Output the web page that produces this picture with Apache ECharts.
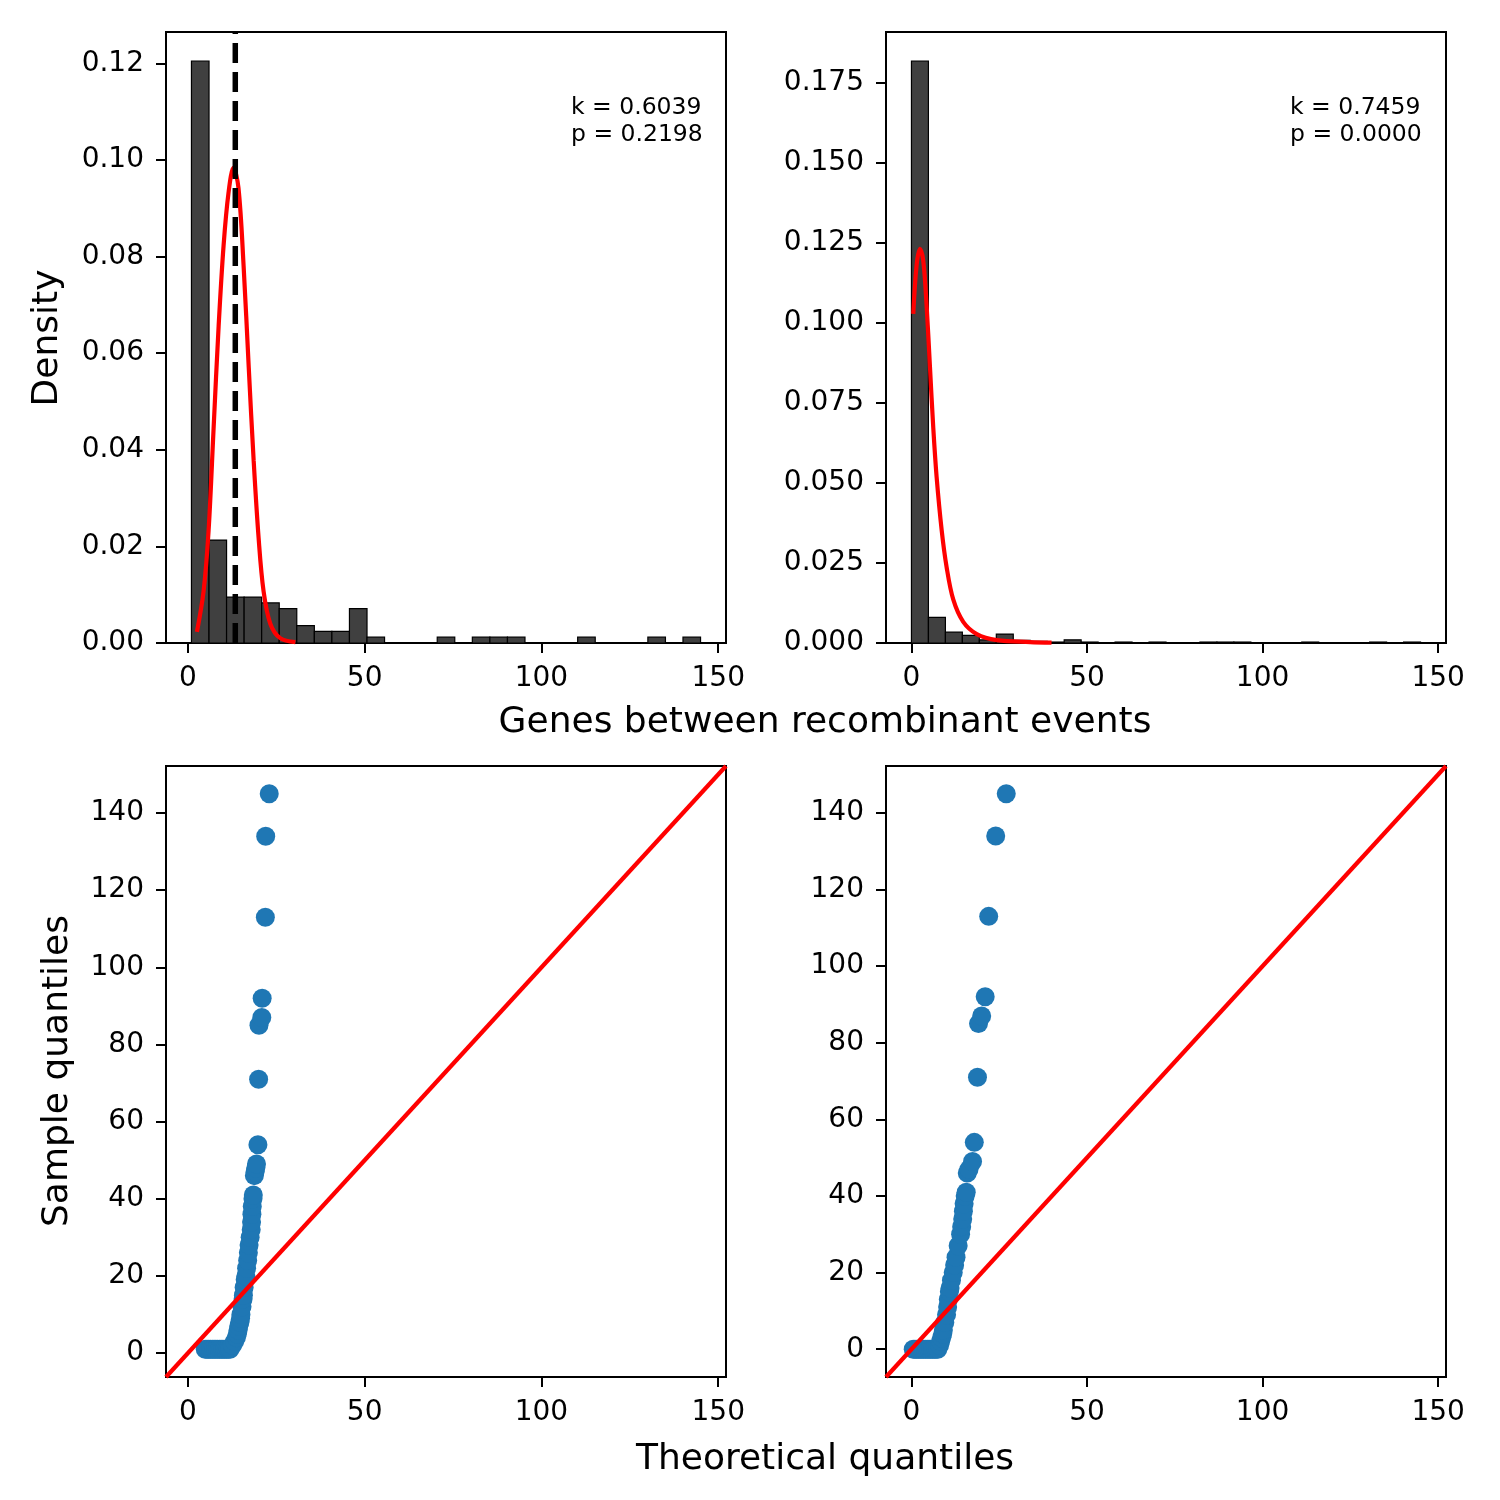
<!DOCTYPE html>
<html><head><meta charset="utf-8">
<script src="https://cdn.jsdelivr.net/npm/echarts@6/dist/echarts.min.js"></script>
<style>html,body{margin:0;padding:0;background:#fff}#c{width:1500px;height:1500px}</style>
</head><body><div id="c"></div><script>
// ---------- data ----------
const leftEdges = [1, 5.97, 10.93, 15.9, 20.86, 25.83, 30.79, 35.76, 40.72, 45.69, 50.66, 55.62, 60.59, 65.55, 70.52, 75.48, 80.45, 85.41, 90.38, 95.34, 100.31, 105.28, 110.24, 115.21, 120.17, 125.14, 130.1, 135.07, 140.03, 145];
const leftDensity = [0.1205, 0.0213, 0.0095, 0.0095, 0.0083, 0.0071, 0.0036, 0.0024, 0.0024, 0.0071, 0.0012, 0, 0, 0, 0.0012, 0, 0.0012, 0.0012, 0.0012, 0, 0, 0, 0.0012, 0, 0, 0, 0.0012, 0, 0.0012];
const rightEdges = [0, 4.83, 9.67, 14.5, 19.33, 24.17, 29, 33.83, 38.67, 43.5, 48.33, 53.17, 58, 62.83, 67.67, 72.5, 77.33, 82.17, 87, 91.83, 96.67, 101.5, 106.33, 111.17, 116, 120.83, 125.67, 130.5, 135.33, 140.17, 145];
const rightDensity = [0.1817, 0.0080, 0.0034, 0.0024, 0.0010, 0.0028, 0.0008, 0.0005, 0.0003, 0.0010, 0.0003, 0, 0.0003, 0, 0.0003, 0, 0, 0.0003, 0.0003, 0.0003, 0, 0, 0, 0.0003, 0, 0, 0, 0.0003, 0, 0.0003];

const leftFitX = [2.55, 4.43, 5.85, 7.26, 8.68, 10.09, 11.5, 12.9, 14.3, 15.75, 17.2, 18.6, 20.0, 21.4, 23.3, 26.1, 30.4];
const leftFitY = [0.0023, 0.0107, 0.0233, 0.0444, 0.0655, 0.0823, 0.0933, 0.0984, 0.0942, 0.0781, 0.0571, 0.0377, 0.0217, 0.0107, 0.0040, 0.0010, 0.0002];
const rightFitX = [0.52, 1.47, 2.42, 3.37, 4.32, 5.27, 6.22, 7.17, 8.6, 10.0, 11.9, 14.75, 18.6, 24.3, 33.8, 39.9];
const rightFitY = [0.1028, 0.1180, 0.1231, 0.1193, 0.1053, 0.0862, 0.0671, 0.0518, 0.0353, 0.0238, 0.0136, 0.0066, 0.0028, 0.0009, 0.0003, 0.0001];
const leftMeanLine = 13.4;

const qqLeftTheo = [4.9, 5.4, 5.9, 6.4, 6.9, 7.4, 7.9, 8.4, 8.9, 9.4, 9.9, 10.4, 10.9, 11.4, 11.9,
  12.6, 13.2, 13.7, 14.0, 14.2, 14.4, 14.7, 14.9, 15.0, 15.3, 15.6, 15.7, 15.9, 16.2, 16.4, 16.6, 16.9, 17.1, 17.3, 17.6, 17.9, 18.0, 18.1, 18.2, 18.4, 18.5, 18.8, 19.0, 19.2, 19.4, 19.8, 20.0, 20.1, 20.9, 21.0, 21.9, 22.0, 23.0];
const qqLeftSample = [1, 1, 1, 1, 1, 1, 1, 1, 1, 1, 1, 1, 1, 1, 1,
  2, 3, 4, 5, 6, 7, 8, 9, 10, 12, 14, 15, 17, 19, 20, 22, 24, 26, 28, 30, 32, 34, 36, 38, 40, 41, 46, 47, 48, 49, 54, 71, 85, 87, 92, 113, 134, 145];
const qqRightTheo = [0.5, 1.0, 1.5, 2.0, 2.5, 3.0, 3.5, 4.0, 4.5, 5.0, 5.5, 6.0, 6.5, 7.0, 7.5,
  8.0, 8.3, 8.6, 8.9, 9.1, 9.5, 10.0, 10.3, 10.5, 10.8, 11.0, 11.4, 11.9, 12.3, 12.7, 13.3, 14.0, 14.3, 14.6, 14.8, 15.0, 15.3, 15.6, 15.9, 16.4, 17.4, 17.9, 18.8, 19.1, 20.0, 21.0, 22.0, 24.0, 27.0];
const qqRightSample = [0, 0, 0, 0, 0, 0, 0, 0, 0, 0, 0, 0, 0, 0, 0,
  1, 2, 3, 4, 5, 7, 9, 11, 13, 15, 16, 18, 20, 22, 24, 27, 30, 32, 34, 36, 38, 40, 41, 46, 47, 49, 54, 71, 85, 87, 92, 113, 134, 145];

const xTicks = [0, 50, 100, 150];
const leftYTicks = [0, 0.02, 0.04, 0.06, 0.08, 0.10, 0.12];
const rightYTicks = [0, 0.025, 0.05, 0.075, 0.1, 0.125, 0.15, 0.175];
const qqYTicks = [0, 20, 40, 60, 80, 100, 120, 140];
const leftStats = ['k = 0.6039', 'p = 0.2198'];
const rightStats = ['k = 0.7459', 'p = 0.0000'];
const xLabelTop = 'Genes between recombinant events';
const xLabelBottom = 'Theoretical quantiles';
const yLabelTop = 'Density';
const yLabelBottom = 'Sample quantiles';

// ---------- chart ----------
const FONT = 'DejaVu Sans';
const leftRange = [-6.2, 152.2];
const rightRange = [-7.25, 152.25];
const topLeftYMax = 0.1265, topRightYMax = 0.1908;

function axisCommon(ticks, fmt, isX) {
  return {
    axisLine: {show: true, onZero: false, lineStyle: {color: '#000', width: 2}},
    axisTick: {show: true, length: 10, customValues: ticks, lineStyle: {color: '#000', width: 2}},
    axisLabel: {customValues: ticks, fontSize: 28, color: '#000', fontFamily: FONT,
      margin: isX ? 22 : 22, padding: isX ? 0 : [5, 0, 0, 0], formatter: fmt},
    splitLine: {show: false}
  };
}
function xAx(gi, range) {
  return Object.assign({type: 'value', gridIndex: gi, min: range[0], max: range[1]},
    axisCommon(xTicks, v => String(Math.round(v)), true));
}
function yAx(gi, min, max, ticks, dec) {
  return Object.assign({type: 'value', gridIndex: gi, min: min, max: max},
    axisCommon(ticks, v => dec > 0 ? v.toFixed(dec) : String(Math.round(v)), false));
}
function histSeries(i, edges, dens) {
  const data = [];
  dens.forEach((d, k) => { if (d > 0) data.push([edges[k], edges[k + 1], d]); });
  return {
    type: 'custom', xAxisIndex: i, yAxisIndex: i, data: data, encode: {x: [0, 1], y: 2}, z: 2,
    renderItem: function (params, api) {
      const p0 = api.coord([api.value(0), api.value(2)]);
      const p1 = api.coord([api.value(1), 0]);
      return {type: 'rect', shape: {x: p0[0], y: p0[1], width: p1[0] - p0[0], height: p1[1] - p0[1]},
        style: {fill: '#404040', stroke: '#000', lineWidth: 1.2}};
    }
  };
}
function zip(a, b) { return a.map((v, i) => [v, b[i]]); }
function fitSeries(i, xs, ys) {
  return {type: 'line', xAxisIndex: i, yAxisIndex: i, data: zip(xs, ys), showSymbol: false, symbol: 'none',
    smooth: 0.35, lineStyle: {color: '#ff0000', width: 4.2}, z: 3};
}
function qqSeries(i, xs, ys) {
  return {type: 'scatter', xAxisIndex: i, yAxisIndex: i, data: zip(xs, ys), symbolSize: 19,
    itemStyle: {color: '#1f77b4', opacity: 1}, z: 2};
}
function refLine(i, range) {
  return {type: 'line', xAxisIndex: i, yAxisIndex: i, data: [[range[0], range[0]], [range[1], range[1]]],
    showSymbol: false, symbol: 'none', lineStyle: {color: '#ff0000', width: 4.2}, z: 3};
}

const grids = [
  {left: 166, top: 32, width: 560, height: 611},
  {left: 886, top: 32, width: 560, height: 611},
  {left: 166, top: 766, width: 560, height: 611},
  {left: 886, top: 766, width: 560, height: 611}
].map(g => Object.assign({show: true, borderColor: '#000', borderWidth: 2, backgroundColor: 'transparent', containLabel: false}, g));

function textEl(x, y, txt, size, rot, align) {
  return {type: 'text', x: x, y: y, rotation: rot || 0, z: 10,
    style: {text: txt, fontSize: size, fontFamily: FONT, fill: '#000', align: align || 'center', verticalAlign: 'middle', lineHeight: size * 1.2}};
}
function statsEl(x, lines) {
  return {type: 'text', x: x, y: 95, z: 10,
    style: {text: lines.join('\n'), fontSize: 23.5, fontFamily: FONT, fill: '#000', lineHeight: 26.5, align: 'left', verticalAlign: 'top'}};
}

const option = {
  animation: false,
  backgroundColor: '#fff',
  grid: grids,
  xAxis: [xAx(0, leftRange), xAx(1, rightRange), xAx(2, leftRange), xAx(3, rightRange)],
  yAxis: [
    yAx(0, 0, topLeftYMax, leftYTicks, 2),
    yAx(1, 0, topRightYMax, rightYTicks, 3),
    yAx(2, leftRange[0], leftRange[1], qqYTicks, 0),
    yAx(3, rightRange[0], rightRange[1], qqYTicks, 0)
  ],
  series: [
    histSeries(0, leftEdges, leftDensity),
    fitSeries(0, leftFitX, leftFitY),
    {type: 'line', xAxisIndex: 0, yAxisIndex: 0, data: [[leftMeanLine, 0], [leftMeanLine, topLeftYMax]],
      showSymbol: false, symbol: 'none', lineStyle: {color: '#000', width: 5.5, type: [20, 9]}, z: 4},
    histSeries(1, rightEdges, rightDensity),
    fitSeries(1, rightFitX, rightFitY),
    qqSeries(2, qqLeftTheo, qqLeftSample),
    refLine(2, leftRange),
    qqSeries(3, qqRightTheo, qqRightSample),
    refLine(3, rightRange)
  ],
  graphic: [
    statsEl(571, leftStats),
    statsEl(1290, rightStats),
    textEl(825, 723, xLabelTop, 36),
    textEl(825, 1460, xLabelBottom, 36),
    textEl(48, 338, yLabelTop, 36, Math.PI / 2),
    textEl(58, 1071, yLabelBottom, 36, Math.PI / 2)
  ]
};
const chart = echarts.init(document.getElementById('c'), null, {renderer: 'canvas'});
chart.setOption(option);
</script></body></html>
